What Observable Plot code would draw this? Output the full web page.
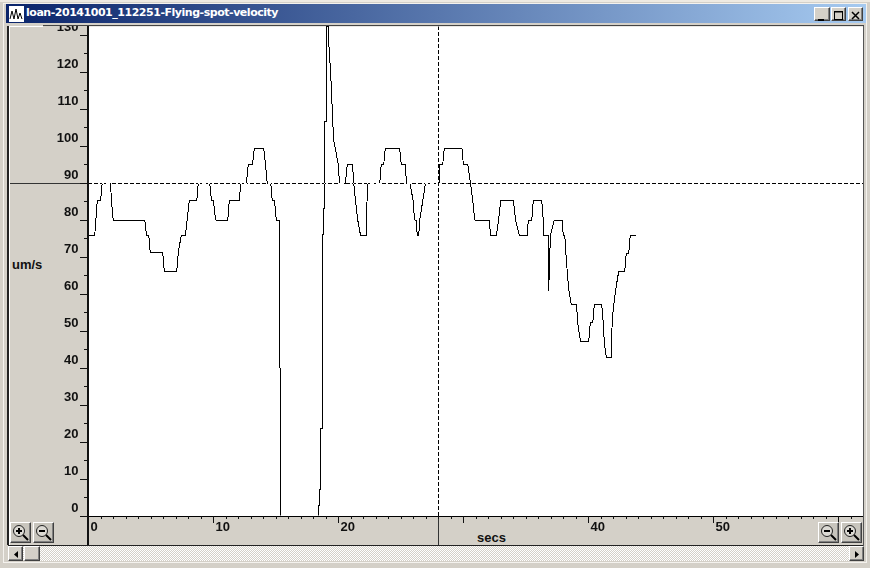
<!DOCTYPE html>
<html><head><meta charset="utf-8">
<script src="https://cdn.jsdelivr.net/npm/d3@7"></script>
<script src="https://cdn.jsdelivr.net/npm/@observablehq/plot@0.6"></script>
<style>
html,body{margin:0;padding:0;background:#d4d0c8;width:870px;height:568px;overflow:hidden}
.b{position:absolute;box-sizing:border-box}
#chart{position:absolute;left:0;top:0;z-index:2}
#chart svg{background:transparent}
.top{z-index:3}
.btn{background:#d4d0c8;border-top:1px solid #fff;border-left:1px solid #fff;border-right:1px solid #404040;border-bottom:1px solid #404040;box-shadow:inset -1px -1px 0 #808080}
.lbl{font:700 13px "Liberation Sans",sans-serif;color:#111;z-index:3}
</style></head><body>
<div class="b" style="left:0;top:0;width:870px;height:2px;background:#eeeae2"></div>
<div class="b" style="left:3px;top:3px;width:864px;height:560px;border:1px solid #f4f2ee"></div>
<div class="b" style="left:7px;top:26px;width:2px;height:519px;background:#222;z-index:3"></div>
<div class="b" style="left:9px;top:27px;width:1px;height:518px;background:#fff;z-index:3"></div>
<div class="b" style="left:8px;top:545px;width:856px;height:1px;background:#222;z-index:3"></div>
<div class="b" style="left:863px;top:26px;width:1px;height:520px;background:#555;z-index:3"></div>
<div class="b top" style="left:4px;top:4px;width:862px;height:22px;background:#d4d0c8"></div>
<div class="b top" style="left:6px;top:4px;width:860px;height:19px;background:linear-gradient(90deg,#0a246a,#a6caf0)"></div>
<div class="b top" style="left:9px;top:26px;width:34px;height:1px;background:#fff"></div>
<div class="b top" style="left:43px;top:25px;width:821px;height:1px;background:#444"></div>
<div class="b top" style="left:9px;top:6px;width:15px;height:16px;background:#fff">
<svg width="15" height="16"><path d="M1 13 L3 5 L5 13 L7 3 L9 13 L11 7 L13 13" fill="none" stroke="#000"/></svg></div>
<div class="b top" style="left:26px;top:6px;color:#fff;font:700 11px 'DejaVu Sans',sans-serif;white-space:nowrap;letter-spacing:-.47px" id="title">loan-20141001_112251-Flying-spot-velocity</div>
<div class="b btn top" style="left:814px;top:7px;width:16px;height:14px"><svg width="14" height="12"><path d="M3 10H9" stroke="#000" stroke-width="2"/></svg></div>
<div class="b btn top" style="left:831px;top:7px;width:15px;height:14px"><svg width="13" height="12"><rect x="2.5" y="1.5" width="8" height="8" fill="none" stroke="#000"/><path d="M2 2H11" stroke="#000"/></svg></div>
<div class="b btn top" style="left:848px;top:7px;width:15px;height:14px"><svg width="13" height="12"><path d="M3 2L10 9M10 2L3 9" stroke="#000" stroke-width="1.5"/></svg></div>
<div class="b lbl" style="left:12px;top:257px">um/s</div>
<div class="b lbl" style="left:477px;top:530px">secs</div>
<div id="chart"></div>
<div id="zooms"></div>
<div class="b top" style="left:9px;top:546px;width:855px;height:15px;background-color:#e8e6e0;background-image:repeating-conic-gradient(#fff 0 25%,#d4d0c8 0 50%);background-size:2px 2px"></div>
<div class="b btn top" style="left:8px;top:546px;width:15px;height:15px"><svg width="13" height="13"><path d="M9 3V10L5 6.5Z" fill="#000"/></svg></div>
<div class="b btn top" style="left:24px;top:546px;width:16px;height:15px"></div>
<div class="b btn top" style="left:849px;top:546px;width:15px;height:15px"><svg width="13" height="13"><path d="M5 3V10L9 6.5Z" fill="#000"/></svg></div>
<script>
const samples = [
[0,75.9],[.5,75.9],[.7,85.2],[.96,85.2],[1.1,90],[1.76,90],[1.84,85],[1.98,80],[4.5,80],[4.64,75.9],[4.82,75.9],[4.94,71.1],[5.94,71.1],[6.06,66.2],[7.06,66.2],[7.18,71.1],[7.42,75.9],[7.76,75.9],[8.06,85.2],[8.66,85.2],[8.78,90],[9.7,90],[9.84,85.2],[10,85.2],[10.16,80],[11.14,80],[11.26,85.2],[12.08,85.2],[12.16,90],[12.64,90],[12.78,95.1],[13.12,95.1],[13.26,99.2],[14.02,99.2],[14.16,95.1],[14.3,90],[14.58,90],[14.7,85.2],[14.88,85.2],[15.02,80],[15.3,80],[15.3,40],[15.38,40],[15.38,0],
[18.42,0],[18.42,2.8],[18.5,2.8],[18.5,7.2],[18.58,7.2],[18.58,23.6],[18.7,23.6],[18.7,76],[18.8,76],[18.8,83.2],[18.9,83.2],[18.9,106.6],[19.04,106.6],[19.04,132.3],[19.22,132.3],[19.22,127.8],[19.36,120.4],[19.46,113.2],[19.54,106.4],[19.62,101.5],[19.76,99.2],[19.84,97.4],[19.98,95.1],[20.08,90],[20.56,90],[20.7,95.1],[21.12,95.1],[21.22,90],[21.36,85.2],[21.54,80],[21.76,75.9],[22.22,75.9],[22.3,87.7],[22.36,90],[23.3,90],[23.42,95.1],[23.62,95.1],[23.74,99.2],[24.9,99.2],[25.02,95.1],[25.34,95.1],[25.44,90],[25.7,90],[25.98,85.2],[26.08,80],[26.22,80],[26.3,75.9],[26.42,75.9],[26.5,80],[26.74,85.2],[26.96,90],
[28.1,90],[28.1,95.1],[28.34,95.1],[28.46,99.2],[29.9,99.2],[29.98,95.1],[30.34,95.1],[30.56,90],[30.74,85.2],[30.9,80],[32.06,80],[32.16,75.9],[32.64,75.9],[32.8,80],[32.98,85.2],[34,85.2],[34.16,80],[34.46,75.9],[35.1,75.9],[35.18,80],[35.46,80],[35.58,85.2],[36.26,85.2],[36.38,80],[36.42,75.9],[36.78,75.9],[36.78,68.6],[36.82,60.9],[36.88,68.6],[36.96,75.9],[37.26,80],[37.9,80],[37.98,75.9],[38.1,75.9],[38.24,68.6],[38.42,61.2],[38.62,57.1],[39.04,57.1],[39.14,52.2],[39.36,47.1],[40.02,47.1],[40.14,52.2],[40.34,52.2],[40.46,57.1],[41.06,57.1],[41.18,52.2],[41.26,47.1],[41.42,42.9],[41.82,42.9],[41.86,49.7],[41.94,54.6],[42.16,60.9],[42.42,66.2],[42.9,66.2],[43.02,71],[43.22,71],[43.34,75.9],[43.74,75.9]
];
const xLabels = [0,10,20,40,50,60];
const xMajor = [0,10,20,30,40,50,60];
const xMinor = d3.range(0,63);
const yMajor = [0,10,20,30,40,50,60,70,80,90,100,110,120,130];
const yMinor = [5,15,25,35,45,55,65,75,85,95,105,115,125];
const tickFont = {fontSize:13, fontFamily:'"Liberation Sans",sans-serif', fontWeight:700, fill:"#111"};
const crisp = {shapeRendering:"crispEdges"};
const chart = Plot.plot({
  width:870, height:568,
  marginLeft:88, marginRight:7, marginTop:26, marginBottom:52.5,
  style:{background:"transparent",overflow:"visible"},
  x:{domain:[0,62], axis:null},
  y:{domain:[0,132.3], axis:null},
  marks:[
    Plot.frame({fill:"#fff",stroke:"none"}),
    Plot.axisY({ticks:[90],tickSize:80,label:null,fill:"none",stroke:"#333",...crisp}),
    Plot.axisX({ticks:[28],tickSize:30,label:null,fill:"none",stroke:"#333",...crisp}),
    Plot.line(samples,{x:"0",y:"1",stroke:"#000",strokeWidth:1,clip:true,...crisp,curve:"linear"}),
    Plot.ruleY([90],{stroke:"#fff",strokeDasharray:"4,2",mixBlendMode:"difference",...crisp}),
    Plot.ruleX([28],{stroke:"#fff",strokeDasharray:"4,2",mixBlendMode:"difference",...crisp}),
    Plot.ruleY([0],{stroke:"#000",...crisp}),
    Plot.ruleX([0],{stroke:"#111",strokeWidth:2,dx:-1,...crisp}),
    Plot.axisX({ticks:[0],tickSize:30,label:null,fill:"none",stroke:"#111",strokeWidth:2,dx:-1,...crisp}),
    Plot.axisY({ticks:yMajor,tickSize:7,label:null,fill:"none",stroke:"#111",dx:-1,...crisp}),
    Plot.axisY({ticks:yMinor,tickSize:3,label:null,fill:"none",stroke:"#111",dx:-1,...crisp}),
    Plot.axisX({ticks:xMajor,tickSize:7,label:null,fill:"none",stroke:"#111",...crisp}),
    Plot.axisX({ticks:xMinor,tickSize:3,label:null,fill:"none",stroke:"#111",...crisp}),
    Plot.axisY({ticks:yMajor,tickSize:0,tickPadding:10,label:null,dy:-8.5,tickFormat:d=>String(d),...tickFont}),
    Plot.axisX({ticks:xLabels,tickSize:0,tickPadding:6,label:null,textAnchor:"start",dx:2,tickFormat:d=>String(d),...tickFont})
  ]
});
document.getElementById("chart").append(chart);
const plus = '<path d="M5 8H11M8 5V11" stroke="#000" stroke-width="2"/>';
const minus = '<path d="M5 8H11" stroke="#000" stroke-width="2"/>';
[[10,plus],[33,minus],[818,minus],[841,plus]].forEach(([l,g])=>{
  const d=document.createElement("div");
  d.className="b top btn";
  d.style.cssText=`left:${l}px;top:522px;width:21px;height:21px;background:#c8c5bd`;
  d.innerHTML=`<svg width="19" height="19"><circle cx="8" cy="8" r="5.5" fill="#dcdad4" stroke="#222"/>${g}<path d="M12 12L17 17" stroke="#000" stroke-width="2"/></svg>`;
  document.getElementById("zooms").append(d);
});
</script>
</body></html>
